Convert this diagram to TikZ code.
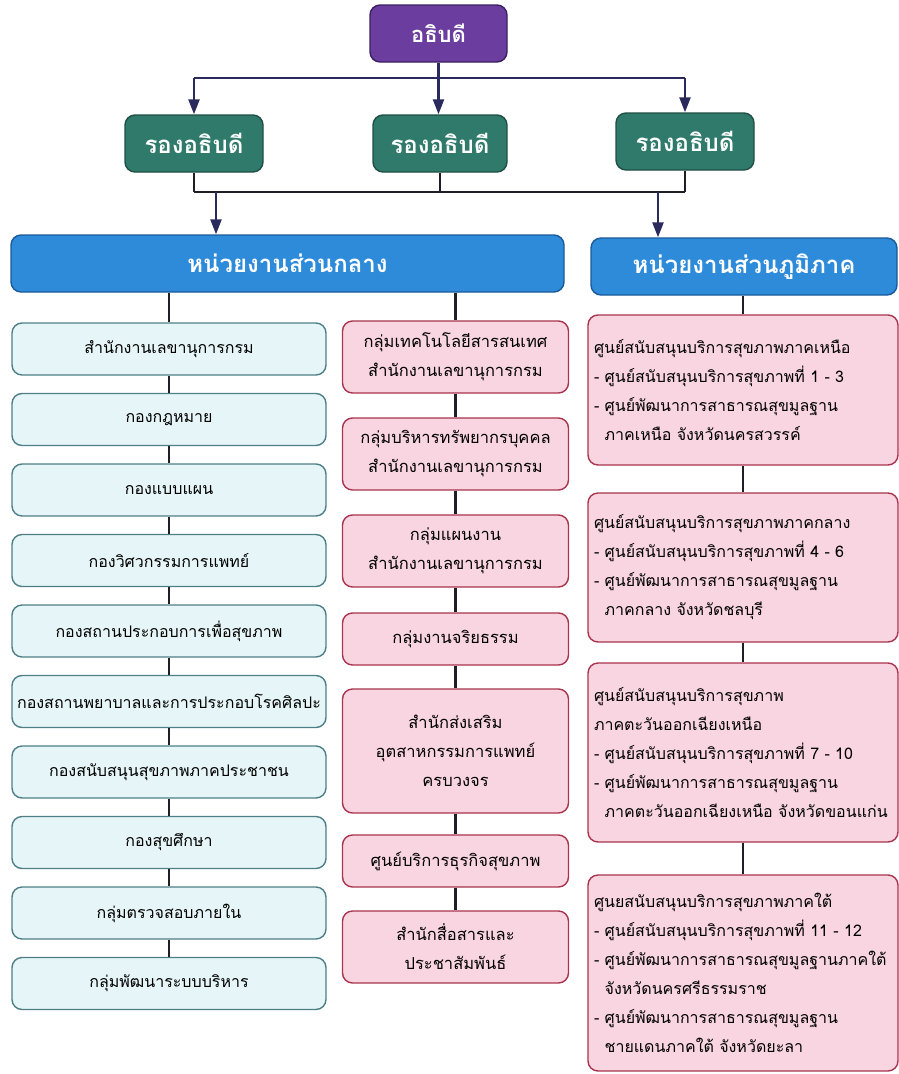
\documentclass[tikz,border=0pt]{standalone}
\usepackage{fontspec}
\setmainfont[Script=Thai]{Loma}
\usetikzlibrary{arrows.meta}

\definecolor{chieffill}{HTML}{6A3D9E}
\definecolor{chiefline}{HTML}{3A2060}
\definecolor{depfill}{HTML}{2F7A6B}
\definecolor{depline}{HTML}{1F4F45}
\definecolor{unitfill}{HTML}{2E8BDA}
\definecolor{unitline}{HTML}{1A5A9A}
\definecolor{cyanfill}{HTML}{E6F5F7}
\definecolor{cyanline}{HTML}{4D7F86}
\definecolor{pinkfill}{HTML}{F8D5E0}
\definecolor{pinkline}{HTML}{A8344F}
\definecolor{navy}{HTML}{2B2A5C}
\definecolor{ink}{HTML}{1E1E24}

\begin{document}
\begin{tikzpicture}[x=1pt,y=-1pt]
    \tikzset{box/.style = {shape=rectangle,rounded corners=10pt,draw,line width=1.4pt,inner sep=0pt}}
    \tikzset{chief/.style = {box,fill=chieffill,draw=chiefline,text=white,font=\fontsize{22}{26}\selectfont\bfseries}}
    \tikzset{deputy/.style = {box,fill=depfill,draw=depline,text=white,font=\fontsize{24}{28}\selectfont\bfseries,minimum height=57pt}}
    \tikzset{unit/.style = {box,fill=unitfill,draw=unitline,text=white,font=\fontsize{24}{28}\selectfont\bfseries,minimum height=57pt}}
    \tikzset{office/.style = {box,fill=cyanfill,draw=cyanline,font=\fontsize{16}{29}\selectfont,minimum width=314pt,minimum height=52pt}}
    \tikzset{group/.style = {box,fill=pinkfill,draw=pinkline,font=\fontsize{16.5}{29}\selectfont,align=center,minimum width=226pt}}
    \tikzset{centre/.style = {box,fill=pinkfill,draw=pinkline,font=\fontsize{16}{29}\selectfont,align=left,minimum width=310pt,text width=298pt}}
    \tikzset{link/.style = {-{Triangle[length=15pt,width=11pt]},line width=2.4pt,draw=navy,fill=navy}}
    \tikzset{line/.style = {line width=2.4pt,draw=ink}}
    \useasboundingbox (0,0) rectangle (899,1074);
    % head and deputies
    \node[chief,minimum width=137pt,minimum height=57pt] (chief) at (438.5,33.5) {อธิบดี};
    \node[deputy,minimum width=138pt] (dep1) at (194,143.5) {รองอธิบดี};
    \node[deputy,minimum width=134pt] (dep2) at (440,143.5) {รองอธิบดี};
    \node[deputy,minimum width=138pt] (dep3) at (685,141.5) {รองอธิบดี};
    % units
    \node[unit,minimum width=553pt] (central) at (287.5,263.5) {หน่วยงานส่วนกลาง};
    \node[unit,minimum width=306pt] (regional) at (744,266.5) {หน่วยงานส่วนภูมิภาค};
    % central, left column
    \node[office] (off1) at (169,349) {สำนักงานเลขานุการกรม};
    \node[office] (off2) at (169,419.5) {กองกฎหมาย};
    \node[office] (off3) at (169,490) {กองแบบแผน};
    \node[office] (off4) at (169,560.5) {กองวิศวกรรมการแพทย์};
    \node[office] (off5) at (169,631) {กองสถานประกอบการเพื่อสุขภาพ};
    \node[office] (off6) at (169,701.5) {กองสถานพยาบาลและการประกอบโรคศิลปะ};
    \node[office] (off7) at (169,772) {กองสนับสนุนสุขภาพภาคประชาชน};
    \node[office] (off8) at (169,842.5) {กองสุขศึกษา};
    \node[office] (off9) at (169,913) {กลุ่มตรวจสอบภายใน};
    \node[office] (off10) at (169,983.5) {กลุ่มพัฒนาระบบบริหาร};
    % central, middle column
    \node[group,minimum height=72pt] (grp1) at (455.5,357) {กลุ่มเทคโนโลยีสารสนเทศ\\สำนักงานเลขานุการกรม};
    \node[group,minimum height=72pt] (grp2) at (455.5,454) {กลุ่มบริหารทรัพยากรบุคคล\\สำนักงานเลขานุการกรม};
    \node[group,minimum height=72pt] (grp3) at (455.5,551) {กลุ่มแผนงาน\\สำนักงานเลขานุการกรม};
    \node[group,minimum height=52pt] (grp4) at (455.5,639) {กลุ่มงานจริยธรรม};
    \node[group,minimum height=124pt] (grp5) at (455.5,751) {สำนักส่งเสริม\\อุตสาหกรรมการแพทย์\\ครบวงจร};
    \node[group,minimum height=52pt] (grp6) at (455.5,861) {ศูนย์บริการธุรกิจสุขภาพ};
    \node[group,minimum height=72pt] (grp7) at (455.5,947) {สำนักสื่อสารและ\\ประชาสัมพันธ์};
    % regional column
    \node[centre,minimum height=150pt] (reg1) at (743,390) {ศูนย์สนับสนุนบริการสุขภาพภาคเหนือ\\- ศูนย์สนับสนุนบริการสุขภาพที่ 1 - 3\\- ศูนย์พัฒนาการสาธารณสุขมูลฐาน\\\phantom{- }ภาคเหนือ จังหวัดนครสวรรค์};
    \node[centre,minimum height=149pt] (reg2) at (743,567.5) {ศูนย์สนับสนุนบริการสุขภาพภาคกลาง\\- ศูนย์สนับสนุนบริการสุขภาพที่ 4 - 6\\- ศูนย์พัฒนาการสาธารณสุขมูลฐาน\\\phantom{- }ภาคกลาง จังหวัดชลบุรี};
    \node[centre,minimum height=179pt] (reg3) at (743,752.5) {ศูนย์สนับสนุนบริการสุขภาพ\\ภาคตะวันออกเฉียงเหนือ\\- ศูนย์สนับสนุนบริการสุขภาพที่ 7 - 10\\- ศูนย์พัฒนาการสาธารณสุขมูลฐาน\\\phantom{- }ภาคตะวันออกเฉียงเหนือ จังหวัดขอนแก่น};
    \node[centre,minimum height=196pt] (reg4) at (743,973) {ศูนยสนับสนุนบริการสุขภาพภาคใต้\\- ศูนย์สนับสนุนบริการสุขภาพที่ 11 - 12\\- ศูนย์พัฒนาการสาธารณสุขมูลฐานภาคใต้\\\phantom{- }จังหวัดนครศรีธรรมราช\\- ศูนย์พัฒนาการสาธารณสุขมูลฐาน\\\phantom{- }ชายแดนภาคใต้ จังหวัดยะลา};
    % top arrows
    \coordinate (split) at (438.5,78);
    \draw[link] (chief.south) -- (chief.south |- dep2.north);
    \draw[line,draw=navy] (dep1.north |- split) -- (dep3.north |- split);
    \draw[link] (dep1.north |- split) -- (dep1.north);
    \draw[link] (dep3.north |- split) -- (dep3.north);
    % deputies to units
    \coordinate (join) at (440,192);
    \draw[line] (dep1.south) -- (dep1.south |- join);
    \draw[line] (dep2.south) -- (dep2.south |- join);
    \draw[line] (dep3.south) -- (dep3.south |- join);
    \draw[line] (dep1.south |- join) -- (dep3.south |- join);
    \coordinate (dropc) at (216,192);
    \coordinate (dropr) at (658,192);
    \draw[link] (dropc) -- (dropc |- central.north);
    \draw[link] (dropr) -- (dropr |- regional.north);
    % column lines
    \draw[line] (central.south -| off1.north) -- (off1.north);
    \draw[line] (off1) -- (off2);
    \draw[line] (off2) -- (off3);
    \draw[line] (off3) -- (off4);
    \draw[line] (off4) -- (off5);
    \draw[line] (off5) -- (off6);
    \draw[line] (off6) -- (off7);
    \draw[line] (off7) -- (off8);
    \draw[line] (off8) -- (off9);
    \draw[line] (off9) -- (off10);
    \draw[line] (central.south -| grp1.north) -- (grp1.north);
    \draw[line] (grp1) -- (grp2);
    \draw[line] (grp2) -- (grp3);
    \draw[line] (grp3) -- (grp4);
    \draw[line] (grp4) -- (grp5);
    \draw[line] (grp5) -- (grp6);
    \draw[line] (grp6) -- (grp7);
    \draw[line] (regional.south -| reg1.north) -- (reg1.north);
    \draw[line] (reg1) -- (reg2);
    \draw[line] (reg2) -- (reg3);
    \draw[line] (reg3) -- (reg4);
\end{tikzpicture}
\end{document}
